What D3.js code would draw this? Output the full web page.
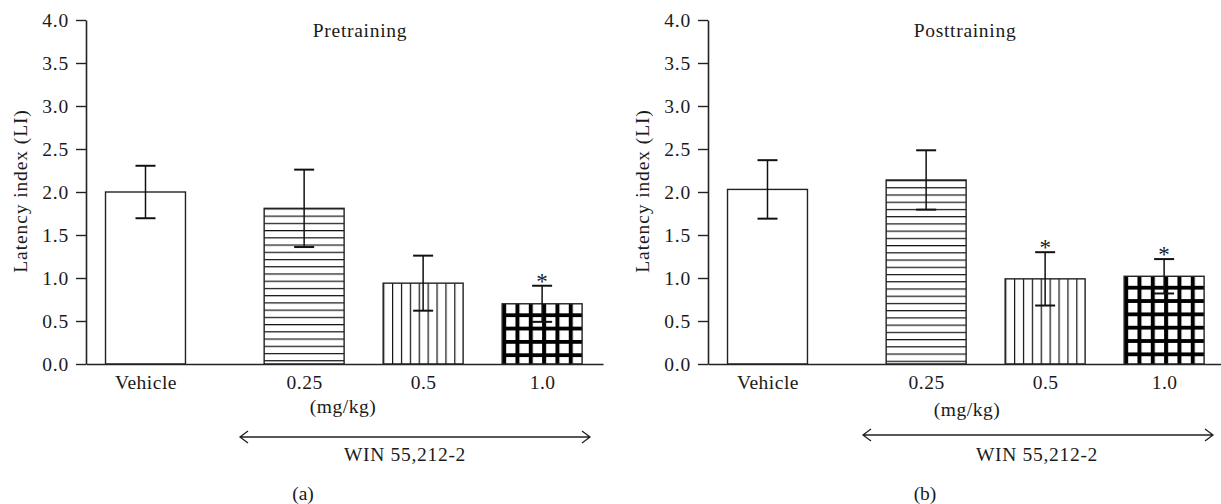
<!DOCTYPE html>
<html><head><meta charset="utf-8">
<script src="https://cdn.jsdelivr.net/npm/d3@7"></script>
<style>
body{margin:0;background:#fff}
text{font-family:"Liberation Serif","Times New Roman",serif;fill:#1a1a1a}
</style>
</head><body><svg id="c" width="1221" height="504"></svg>
<script>
// ---- data ----
const categories = ["Vehicle", "0.25", "0.5", "1.0"];
const yTickValues = [0, 0.5, 1.0, 1.5, 2.0, 2.5, 3.0, 3.5, 4.0];
const preMeans = [2.00, 1.81, 0.94, 0.70];
const preErr = [0.305, 0.45, 0.32, 0.21];
const preSig = [false, false, false, true];
const postMeans = [2.03, 2.14, 0.99, 1.02];
const postErr = [0.34, 0.345, 0.31, 0.20];
const postSig = [false, false, true, true];
const fillPatterns = ["none", "hlines", "vlines", "grid"];
const panelTitles = ["Pretraining", "Posttraining"];
const panelLetters = ["(a)", "(b)"];
const yLabel = "Latency index (LI)";
const unitLabel = "(mg/kg)";
const drugLabel = "WIN 55,212-2";

// ---- layout ----
const svg = d3.select("#c");
const defs = svg.append("defs");
const FS = 19.5;
const layouts = [
  {ax: 86, titleX: 360, unitX: 343, unitY: 413, arrow: [240, 590, 437], drugX: 405, letterX: 303, ylabX: 27},
  {ax: 708, titleX: 965, unitX: 967, unitY: 416, arrow: [863, 1213, 435], drugX: 1037, letterX: 925, ylabX: 649}
];
const panelsData = [
  {means: preMeans, errs: preErr, sig: preSig},
  {means: postMeans, errs: postErr, sig: postSig}
];
const y = d3.scaleLinear().domain([0, 4]).range([364, 20]);
const slot = i => (i === 0 ? 0 : i + 1 / 3);

panelsData.forEach((pd, p) => {
  const L = layouts[p];
  const g = svg.append("g");
  const x = d3.scaleLinear().domain([-0.5, 3.845]).range([L.ax, L.ax + 517]);
  const bw = (x(1) - x(0)) * 0.672;

  // patterns per bar
  categories.forEach((c, i) => {
    const type = fillPatterns[i];
    if (type === "none") return;
    const bx = x(slot(i)) - bw / 2, by = y(pd.means[i]);
    const id = `pat${p}_${i}`;
    if (type === "hlines") {
      const pt = defs.append("pattern").attr("id", id).attr("patternUnits", "userSpaceOnUse")
        .attr("width", 10).attr("height", 7.23).attr("patternTransform", `translate(${bx},${by})`);
      pt.append("rect").attr("width", 10).attr("height", 7.23).attr("fill", "#fff");
      pt.append("rect").attr("y", 0).attr("width", 10).attr("height", 1.2).attr("fill", "#111");
    } else if (type === "vlines") {
      const w = bw / 9;
      const pt = defs.append("pattern").attr("id", id).attr("patternUnits", "userSpaceOnUse")
        .attr("width", w).attr("height", 10).attr("patternTransform", `translate(${bx},${by})`);
      pt.append("rect").attr("width", w).attr("height", 10).attr("fill", "#fff");
      pt.append("rect").attr("x", 0).attr("width", 1.2).attr("height", 10).attr("fill", "#111");
    } else {
      const s = bw / 6;
      const pt = defs.append("pattern").attr("id", id).attr("patternUnits", "userSpaceOnUse")
        .attr("width", s).attr("height", s).attr("patternTransform", `translate(${bx},${by})`);
      pt.append("rect").attr("width", s).attr("height", s).attr("fill", "#fff");
      pt.append("rect").attr("x", 0).attr("width", 4).attr("height", s).attr("fill", "#000");
      pt.append("rect").attr("y", s - 3.8).attr("width", s).attr("height", 3.8).attr("fill", "#000");
    }
  });

  // bars
  g.selectAll("rect.bar").data(categories).join("rect").attr("class", "bar")
    .attr("x", (d, i) => x(slot(i)) - bw / 2)
    .attr("y", (d, i) => y(pd.means[i]))
    .attr("width", bw)
    .attr("height", (d, i) => y(0) - y(pd.means[i]))
    .attr("fill", (d, i) => fillPatterns[i] === "none" ? "#fff" : `url(#pat${p}_${i})`)
    .attr("stroke", "#222").attr("stroke-width", 1.4);

  // error bars
  const eb = g.selectAll("g.err").data(categories).join("g").attr("class", "err");
  eb.append("line")
    .attr("x1", (d, i) => x(slot(i))).attr("x2", (d, i) => x(slot(i)))
    .attr("y1", (d, i) => y(pd.means[i] - pd.errs[i])).attr("y2", (d, i) => y(pd.means[i] + pd.errs[i]))
    .attr("stroke", "#111").attr("stroke-width", 1.5);
  [1, -1].forEach(sgn => {
    eb.append("line")
      .attr("x1", (d, i) => x(slot(i)) - 10).attr("x2", (d, i) => x(slot(i)) + 10)
      .attr("y1", (d, i) => y(pd.means[i] + sgn * pd.errs[i])).attr("y2", (d, i) => y(pd.means[i] + sgn * pd.errs[i]))
      .attr("stroke", "#111").attr("stroke-width", 2);
  });

  // significance
  g.selectAll("text.sig").data(categories.filter((c, i) => pd.sig[i])).join("text").attr("class", "sig")
    .attr("x", c => x(slot(categories.indexOf(c))))
    .attr("y", c => { const i = categories.indexOf(c); return y(pd.means[i] + pd.errs[i]) + 3; })
    .attr("text-anchor", "middle").attr("font-size", 23).text("*");

  // y axis
  const ya = g.append("g").attr("transform", `translate(${L.ax},0)`)
    .call(d3.axisLeft(y).tickValues(yTickValues).tickFormat(d3.format(".1f")).tickSize(10).tickPadding(7).tickSizeOuter(0));
  ya.select(".domain").attr("stroke", "#222").attr("stroke-width", 1.6);
  ya.selectAll(".tick line").attr("stroke", "#222").attr("stroke-width", 1.4);
  ya.selectAll(".tick text").attr("font-size", FS).attr("fill", "#1a1a1a").style("font-family", '"Liberation Serif",serif').attr("letter-spacing", 0.8);

  // x axis
  const xa = g.append("g").attr("transform", `translate(0,${y(0)})`)
    .call(d3.axisBottom(x).tickValues(categories.map((c, i) => slot(i)))
      .tickFormat((d, i) => categories[i]).tickSize(0).tickPadding(11).tickSizeOuter(0));
  xa.select(".domain").attr("stroke", "#222").attr("stroke-width", 1.6);
  xa.selectAll(".tick text").attr("font-size", FS).attr("fill", "#1a1a1a").style("font-family", '"Liberation Serif",serif').attr("letter-spacing", 0.5);

  // title
  g.append("text").attr("x", L.titleX).attr("y", 37).attr("text-anchor", "middle")
    .attr("font-size", FS).attr("letter-spacing", 0.7).text(panelTitles[p]);

  // y label
  g.append("text").attr("transform", `translate(${L.ylabX},191) rotate(-90)`).attr("text-anchor", "middle")
    .attr("font-size", FS).attr("letter-spacing", 0.9).text(yLabel);

  // unit
  g.append("text").attr("x", L.unitX).attr("y", L.unitY).attr("text-anchor", "middle")
    .attr("font-size", FS).attr("letter-spacing", 0.5).text(unitLabel);

  // arrow
  const [a0, a1, ay] = L.arrow;
  g.append("path")
    .attr("d", `M${a0},${ay}H${a1}M${a0 + 8},${ay - 6}L${a0},${ay}L${a0 + 8},${ay + 6}M${a1 - 8},${ay - 6}L${a1},${ay}L${a1 - 8},${ay + 6}`)
    .attr("fill", "none").attr("stroke", "#222").attr("stroke-width", 1.3);

  g.append("text").attr("x", L.drugX).attr("y", 461).attr("text-anchor", "middle")
    .attr("font-size", FS).attr("letter-spacing", 0.7).text(drugLabel);

  g.append("text").attr("x", L.letterX).attr("y", 500).attr("text-anchor", "middle")
    .attr("font-size", FS).text(panelLetters[p]);
});
</script></body></html>
